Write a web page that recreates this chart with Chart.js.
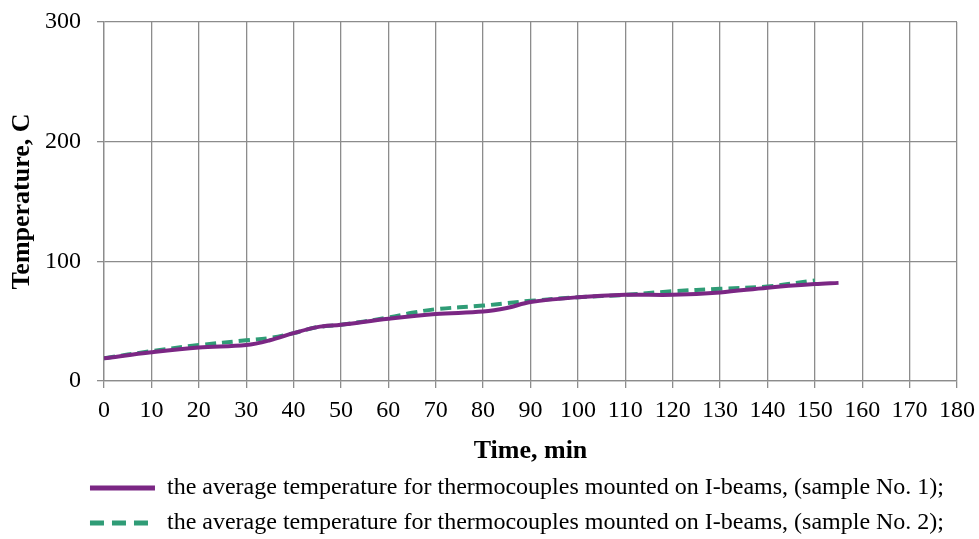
<!DOCTYPE html>
<html>
<head>
<meta charset="utf-8">
<script src="https://cdn.jsdelivr.net/npm/chart.js@4.4.0/dist/chart.umd.min.js"></script>
<style>
  html, body { margin: 0; padding: 0; background: #fff; }
  #wrap { width: 979px; height: 539px; }
</style>
</head>
<body>
<div id="wrap"><canvas id="chart" width="979" height="539"></canvas></div>
<script>
// sample No. 1 (solid purple)
var time1 = [0, 10, 20, 30, 35, 40, 45, 50, 60, 70, 80, 85, 90, 100, 110, 120, 130, 140, 150, 155];
var temp1 = [19, 24, 28, 30, 34, 40, 45, 47, 52, 56, 58, 61, 66, 70, 72, 72, 74, 78, 81, 82];

// sample No. 2 (dashed green)
var time2 = [0, 10, 20, 30, 35, 40, 45, 50, 60, 65, 70, 80, 85, 90, 100, 110, 120, 130, 140, 150];
var temp2 = [19, 25, 30, 34, 36, 40, 45, 47, 53, 57, 60, 63, 65, 67, 70, 72, 75, 77, 79, 84];

var label1 = 'the average temperature for thermocouples mounted on I-beams, (sample No. 1);';
var label2 = 'the average temperature for thermocouples mounted on I-beams, (sample No. 2);';

var gridColor = '#8c8c8c';
var serif = "'Liberation Serif', 'Times New Roman', serif";

function toPoints(xs, ys){
    var pts = [];
    for(var i = 0; i < xs.length; i++){
        pts.push({x: xs[i], y: ys[i]});
    }
    return pts;
}

// legend sits a bit right of center in the original
var shiftLegend = {
    id: 'shiftLegend',
    afterLayout: function(chart){
        var lg = chart.legend;
        lg.left += 25;
        lg.right += 25;
        lg.top -= 2;
        lg.bottom -= 2;
    }
};

var config = {
    type: 'line',
    data: {
        datasets: [{
            label: label1,
            data: toPoints(time1, temp1),
            borderColor: '#7b2784',
            backgroundColor: '#7b2784',
            borderWidth: 4,
            pointRadius: 0,
            tension: 0.35
        }, {
            label: label2,
            data: toPoints(time2, temp2),
            borderColor: '#2f9c76',
            backgroundColor: '#2f9c76',
            borderWidth: 4,
            borderDash: [11, 6],
            pointRadius: 0,
            tension: 0.35
        }]
    },
    options: {
        responsive: false,
        animation: false,
        layout: {
            padding: {left: 8, right: 3, top: 22, bottom: 0}
        },
        plugins: {
            tooltip: {enabled: false},
            legend: {
                position: 'bottom',
                align: 'center',
                maxHeight: 72,
                labels: {
                    usePointStyle: true,
                    pointStyle: 'line',
                    pointStyleWidth: 65,
                    padding: 11,
                    color: '#000',
                    font: {family: serif, size: 24},
                    generateLabels: function(chart){
                        var items = Chart.defaults.plugins.legend.labels.generateLabels(chart);
                        items.forEach(function(item){
                            var ds = chart.data.datasets[item.datasetIndex];
                            item.lineDash = ds.borderDash ? [14, 8] : [];
                            item.lineWidth = 5;
                            item.strokeStyle = ds.borderColor;
                        });
                        return items;
                    }
                }
            }
        },
        scales: {
            x: {
                type: 'linear',
                min: 0,
                max: 180,
                afterFit: function(scale){
                    scale.paddingRight = 22;
                },
                ticks: {
                    stepSize: 10,
                    color: '#000',
                    padding: 8,
                    maxRotation: 0,
                    font: {family: serif, size: 24}
                },
                grid: {color: gridColor, lineWidth: 1.3, tickLength: 7},
                border: {color: gridColor, width: 1.3},
                title: {
                    display: true,
                    text: 'Time, min',
                    color: '#000',
                    padding: {top: 3, bottom: 0},
                    font: {family: serif, size: 26, weight: 'bold'}
                }
            },
            y: {
                min: 0,
                max: 300,
                afterFit: function(scale){
                    scale.paddingTop = 0;
                },
                ticks: {
                    stepSize: 100,
                    color: '#000',
                    padding: 16,
                    font: {family: serif, size: 24}
                },
                grid: {color: gridColor, lineWidth: 1.3, tickLength: 7},
                border: {color: gridColor, width: 1.3},
                title: {
                    display: true,
                    text: 'Temperature, C',
                    color: '#000',
                    padding: {top: 8, bottom: 0},
                    font: {family: serif, size: 26, weight: 'bold', lineHeight: 0.5}
                }
            }
        }
    },
    plugins: [shiftLegend]
};

var ctx = document.getElementById('chart').getContext('2d');
var chart = new Chart(ctx, config);
</script>
</body>
</html>
